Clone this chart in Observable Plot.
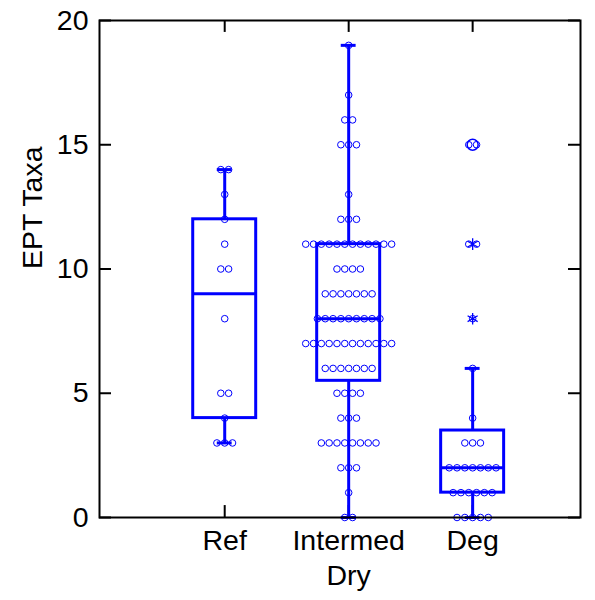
<!DOCTYPE html>
<html><head><meta charset="utf-8">
<script src="https://cdn.jsdelivr.net/npm/d3@7"></script>
<script src="https://cdn.jsdelivr.net/npm/@observablehq/plot@0.6"></script>
<style>body{margin:0;background:#fff}svg{display:block}</style>
</head><body><div id="chart"></div>
<script>
// ---- data ----
const categories = ["Ref", "Intermed", "Deg"];
const refValues = [3,3,3,4,5,5,8,10,10,11,12,13,14,14];
const intermedValues = [
  0,0,1,2,2,2,3,3,3,3,3,3,3,3,4,4,4,5,5,5,5,6,6,6,6,6,6,6,
  7,7,7,7,7,7,7,7,7,7,7,7,8,8,8,8,8,8,8,8,8,9,9,9,9,9,9,9,
  10,10,10,10,11,11,11,11,11,11,11,11,11,11,11,11,12,12,12,13,15,15,15,16,16,17,19
];
const degValues = [0,0,0,0,0,1,1,1,1,1,1,2,2,2,2,2,2,2,3,3,3,4,6,8,11,11,15,15];
const lowerHinge = [4, 5.5, 1];
const medians = [9, 8, 2];
const upperHinge = [12, 11, 3.5];
const whiskerLow = [3, 0, 0];
const whiskerHigh = [14, 19, 6];
const outlierCategory = ["Deg", "Deg", "Deg"];
const outlierValue = [8, 11, 15];
const outlierSymbol = ["asterisk", "asterisk", "circle"];
const yTicks = [0, 5, 10, 15, 20];
const xTitle = "Dry";
const yTitle = "EPT Taxa";

// ---- layout helpers ----
const BLUE = "#0000ff";
const FS = 28.5;
const xDomain = [-0.01, 3.87];
const boxHalf = 0.254, capHalf = 0.06, dotStep = 0.063;
const tickX = 0.097, tickY = 0.48;
const pos = c => categories.indexOf(c) + 1;

const stats = categories.map((c, i) => ({
  x: i + 1, lo: whiskerLow[i], q1: lowerHinge[i], med: medians[i], q3: upperHinge[i], hi: whiskerHigh[i]
}));

function spread(cat, values) {
  const groups = d3.group(values, v => v);
  const out = [];
  for (const [v, arr] of groups) {
    const n = arr.length;
    arr.forEach((_, k) => out.push({x: pos(cat) + (k - (n - 1) / 2) * dotStep, y: v}));
  }
  return out;
}
const points = [
  ...spread("Ref", refValues),
  ...spread("Intermed", intermedValues),
  ...spread("Deg", degValues)
];
const outliers = outlierValue.map((v, i) => ({x: pos(outlierCategory[i]), y: v, s: outlierSymbol[i]}));

const chart = Plot.plot({
  width: 595,
  height: 600,
  marginLeft: 99,
  marginRight: 15,
  marginTop: 20,
  marginBottom: 83,
  style: {fontFamily: "Liberation Sans, Arial, sans-serif", background: "#fff", color: "#000"},
  x: {type: "linear", domain: xDomain, axis: null},
  y: {domain: [0, 20], axis: null},
  marks: [
    // inward ticks
    Plot.ruleY(yTicks, {y: d => d, x1: xDomain[0], x2: xDomain[0] + tickX, stroke: "black", strokeWidth: 2}),
    Plot.ruleY(yTicks, {y: d => d, x1: xDomain[1] - tickX, x2: xDomain[1], stroke: "black", strokeWidth: 2}),
    Plot.ruleX(categories, {x: pos, y1: 20, y2: 20 - tickY, stroke: "black", strokeWidth: 2}),
    Plot.ruleX(categories, {x: pos, y1: 0, y2: tickY, stroke: "black", strokeWidth: 2}),
    // boxes
    Plot.ruleX(stats, {x: "x", y1: "lo", y2: "q1", stroke: BLUE, strokeWidth: 3}),
    Plot.ruleX(stats, {x: "x", y1: "q3", y2: "hi", stroke: BLUE, strokeWidth: 3}),
    Plot.ruleY(stats, {y: "lo", x1: d => d.x - capHalf, x2: d => d.x + capHalf, stroke: BLUE, strokeWidth: 3}),
    Plot.ruleY(stats, {y: "hi", x1: d => d.x - capHalf, x2: d => d.x + capHalf, stroke: BLUE, strokeWidth: 3}),
    Plot.rect(stats, {x1: d => d.x - boxHalf, x2: d => d.x + boxHalf, y1: "q1", y2: "q3", fill: "none", stroke: BLUE, strokeWidth: 3}),
    Plot.ruleY(stats, {y: "med", x1: d => d.x - boxHalf, x2: d => d.x + boxHalf, stroke: BLUE, strokeWidth: 3}),
    // points
    Plot.dot(points, {x: "x", y: "y", r: 3.3, fill: "none", stroke: BLUE, strokeWidth: 1}),
    Plot.dot(outliers.filter(d => d.s === "asterisk"), {x: "x", y: "y", symbol: "asterisk", r: 5.5, fill: "none", stroke: BLUE, strokeWidth: 1.3}),
    Plot.dot(outliers.filter(d => d.s === "circle"), {x: "x", y: "y", symbol: "circle", r: 5.5, fill: "none", stroke: BLUE, strokeWidth: 1.5}),
    // frame
    Plot.frame({stroke: "black", strokeWidth: 2}),
    // labels
    Plot.text(yTicks, {x: xDomain[0], y: d => d, text: d => String(d), textAnchor: "end", dx: -11, fontSize: FS, fill: "black"}),
    Plot.text(categories, {x: pos, frameAnchor: "bottom", dy: 32, text: d => d, fontSize: FS, fill: "black"}),
    Plot.text([xTitle], {x: () => d3.mean(categories, pos), frameAnchor: "bottom", dy: 67, text: d => d, fontSize: FS, fill: "black"}),
    Plot.text([yTitle], {frameAnchor: "left", dx: -67, rotate: -90, text: d => d, fontSize: FS, fill: "black"})
  ]
});
document.getElementById("chart").append(chart);
</script>
</body></html>
